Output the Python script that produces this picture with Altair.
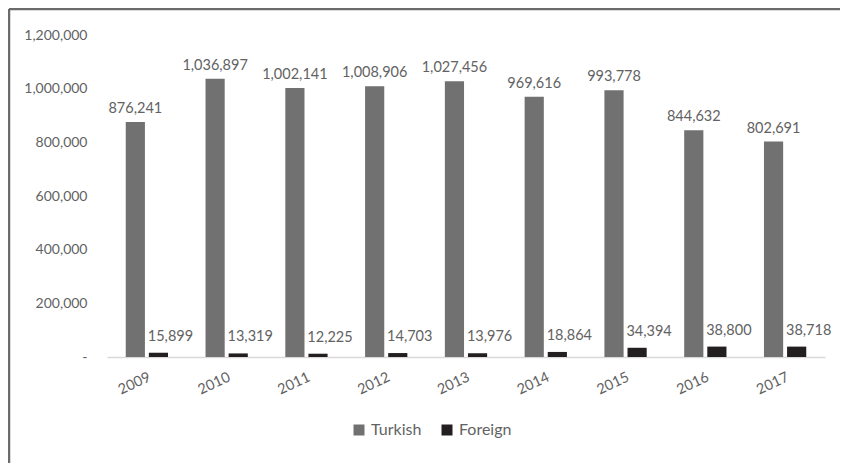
import altair as alt
import pandas as pd

years = ["2009", "2010", "2011", "2012", "2013", "2014", "2015", "2016", "2017"]
turkish = [876241, 1036897, 1002141, 1008906, 1027456, 969616, 993778, 844632, 802691]
foreign = [15899, 13319, 12225, 14703, 13976, 18864, 34394, 38800, 38718]
series = ["Turkish", "Foreign"]
colors = ["#717171", "#231f20"]
y_ticks = [0, 200000, 400000, 600000, 800000, 1000000, 1200000]

rows = []
for yr, t, f in zip(years, turkish, foreign):
    rows.append({"year": yr, "series": "Turkish", "value": t})
    rows.append({"year": yr, "series": "Foreign", "value": f})
df = pd.DataFrame(rows)

FONT = "Lato"
TEXT = "#626262"

x = alt.X("year:N", sort=years, title=None,
          scale=alt.Scale(paddingInner=0.47, paddingOuter=0.235),
          axis=alt.Axis(labelAngle=-25, labelAlign="right", labelBaseline="top",
                        labelPadding=13, ticks=False, domainColor="#d9d9d9",
                        domainWidth=1.5, labelColor=TEXT, labelFont=FONT,
                        labelFontSize=14.5))
y = alt.Y("value:Q", title=None, scale=alt.Scale(domain=[0, 1200000]),
          axis=alt.Axis(values=y_ticks,
                        labelExpr="datum.value == 0 ? '-' : format(datum.value, ',')",
                        ticks=False, domain=False, grid=False, labelPadding=20,
                        labelColor=TEXT, labelFont=FONT, labelFontSize=14))
xo = alt.XOffset("series:N", sort=series, scale=alt.Scale(paddingInner=0.17))

bars = alt.Chart(df).mark_bar().encode(
    x=x, y=y, xOffset=xo,
    color=alt.Color("series:N", sort=series,
                    scale=alt.Scale(domain=series, range=colors),
                    legend=alt.Legend(title=None, orient="none", direction="horizontal",
                                      legendX=244, legendY=387, padding=0,
                                      symbolType="square", symbolSize=121,
                                      symbolStrokeWidth=0, labelOffset=4,
                                      columnPadding=17, labelFont=FONT,
                                      labelFontSize=16, labelColor=TEXT)),
)

text_t = alt.Chart(df).transform_filter("datum.series == 'Turkish'").mark_text(
    baseline="alphabetic", dy=-9, font=FONT, fontSize=14.5, color=TEXT
).encode(x=x, y=y, xOffset=xo, text=alt.Text("value:Q", format=","))

text_f = alt.Chart(df).transform_filter("datum.series == 'Foreign'").mark_text(
    baseline="alphabetic", dy=-12, dx=12, font=FONT, fontSize=14.5, color=TEXT
).encode(x=x, y=y, xOffset=xo, text=alt.Text("value:Q", format=","))

one = pd.DataFrame({"k": [0]})
border_top = alt.Chart(one).mark_rule(color="#6b6b6b", strokeWidth=2.5).encode(
    x=alt.value(-98), x2=alt.value(733), y=alt.value(-26))
border_left = alt.Chart(one).mark_rule(color="#6b6b6b", strokeWidth=2.5).encode(
    x=alt.value(-98), y=alt.value(-26), y2=alt.value(440))

chart = alt.layer(bars, text_t, text_f, border_top, border_left).properties(
    width=718, height=322,
    padding={"left": 99, "top": 27, "right": 15, "bottom": 106},
    autosize=alt.AutoSizeParams(type="none"),
).configure_view(stroke=None)

chart.save("out.html", embed_options={"renderer": "svg", "actions": False})
